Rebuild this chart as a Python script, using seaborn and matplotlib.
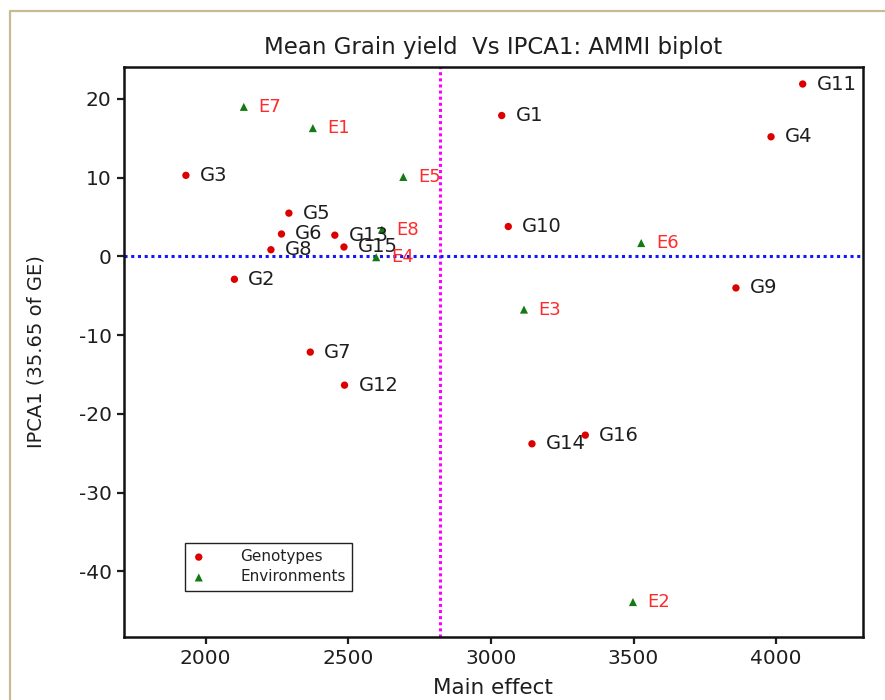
import matplotlib
matplotlib.use("Agg")
import matplotlib.pyplot as plt
from matplotlib.lines import Line2D
import seaborn as sns
import pandas as pd

# ---- data ----
genotypes = ["G1", "G2", "G3", "G4", "G5", "G6", "G7", "G8",
             "G9", "G10", "G11", "G12", "G13", "G14", "G15", "G16"]
geno_main = [3038, 2101, 1931, 3982, 2292, 2266, 2367, 2229,
             3859, 3061, 4093, 2487, 2453, 3144, 2485, 3331]
geno_ipca1 = [17.9, -2.9, 10.3, 15.2, 5.5, 2.85, -12.15, 0.85,
              -4.0, 3.8, 21.9, -16.35, 2.7, -23.8, 1.2, -22.7]

environments = ["E1", "E2", "E3", "E4", "E5", "E6", "E7", "E8"]
env_main = [2376, 3498, 3116, 2598, 2693, 3527, 2134, 2618]
env_ipca1 = [16.3, -43.9, -6.75, -0.1, 10.1, 1.7, 19.0, 3.4]

grand_mean = 2820
x_ticks = [2000, 2500, 3000, 3500, 4000]
y_ticks = [20, 10, 0, -10, -20, -30, -40]

title = "Mean Grain yield  Vs IPCA1: AMMI biplot"
xlabel = "Main effect"
ylabel = "IPCA1 (35.65 of GE)"

geno_df = pd.DataFrame({"x": geno_main, "y": geno_ipca1, "label": genotypes})
env_df = pd.DataFrame({"x": env_main, "y": env_ipca1, "label": environments})

sns.set_theme(style="white")
plt.rcParams["font.family"] = ["DejaVu Sans"]
plt.rcParams["axes.unicode_minus"] = False

fig = plt.figure(figsize=(8.85, 7.0), dpi=100)
ax = fig.add_axes([124 / 885, 1 - 636.7 / 700, (862.6 - 124) / 885, (636.7 - 66.7) / 700])

red = "#dd0000"
green = "#137a13"
txt = "#1e1e1e"

ax.axvline(grand_mean, color="#ff00ff", linestyle=(0, (1, 1)), linewidth=2.2, zorder=1)
ax.axhline(0, color="#1414ff", linestyle=(0, (1, 1.2)), linewidth=2.2, zorder=1)

sns.scatterplot(data=geno_df, x="x", y="y", ax=ax, color=red, marker="o",
                s=28, edgecolor="none", label="Genotypes", zorder=3)
sns.scatterplot(data=env_df, x="x", y="y", ax=ax, color=green, marker="^",
                s=34, edgecolor="none", label="Environments", zorder=3)

for _, r in geno_df.iterrows():
    ax.annotate(r["label"], (r["x"], r["y"]), xytext=(10, 0), textcoords="offset points",
                ha="left", va="center", fontsize=14, color=txt, zorder=4)
for _, r in env_df.iterrows():
    ax.annotate(r["label"], (r["x"], r["y"]), xytext=(10.5, 0), textcoords="offset points",
                ha="left", va="center", fontsize=13, color="#ff2a2a", zorder=4)

ax.set_xlim(1714, 4303)
ax.set_ylim(-48.3, 24.1)
ax.set_xticks(x_ticks)
ax.set_yticks(y_ticks)
ax.tick_params(axis="both", direction="out", length=5, width=1.6, labelsize=14.5,
               colors=txt, pad=4, bottom=True, left=True)
for s in ax.spines.values():
    s.set_linewidth(1.8)
    s.set_color("#111111")

ax.set_title(title, fontsize=16.5, color=txt, pad=9)
ax.set_xlabel(xlabel, fontsize=15.5, color=txt, labelpad=7)
ax.set_ylabel(ylabel, fontsize=14, color=txt, labelpad=24)

leg = ax.legend(loc="upper left", bbox_to_anchor=(0.0826, 0.1644), fontsize=11,
                frameon=True, fancybox=False, edgecolor="#222222", framealpha=1,
                handlelength=1.0, handletextpad=2.2, borderpad=0.4, labelspacing=0.35,
                markerscale=1.0, borderaxespad=0)
leg.get_frame().set_linewidth(1.0)
for t in leg.get_texts():
    t.set_color("#222222")

border = "#c8bb94"
fig.add_artist(Line2D([10 / 885, 1.0], [1 - 10.7 / 700, 1 - 10.7 / 700],
                      transform=fig.transFigure, color=border, linewidth=1.6))
fig.add_artist(Line2D([10 / 885, 10 / 885], [0, 1 - 10.7 / 700],
                      transform=fig.transFigure, color=border, linewidth=1.6))

fig.savefig("out.png", dpi=100)
